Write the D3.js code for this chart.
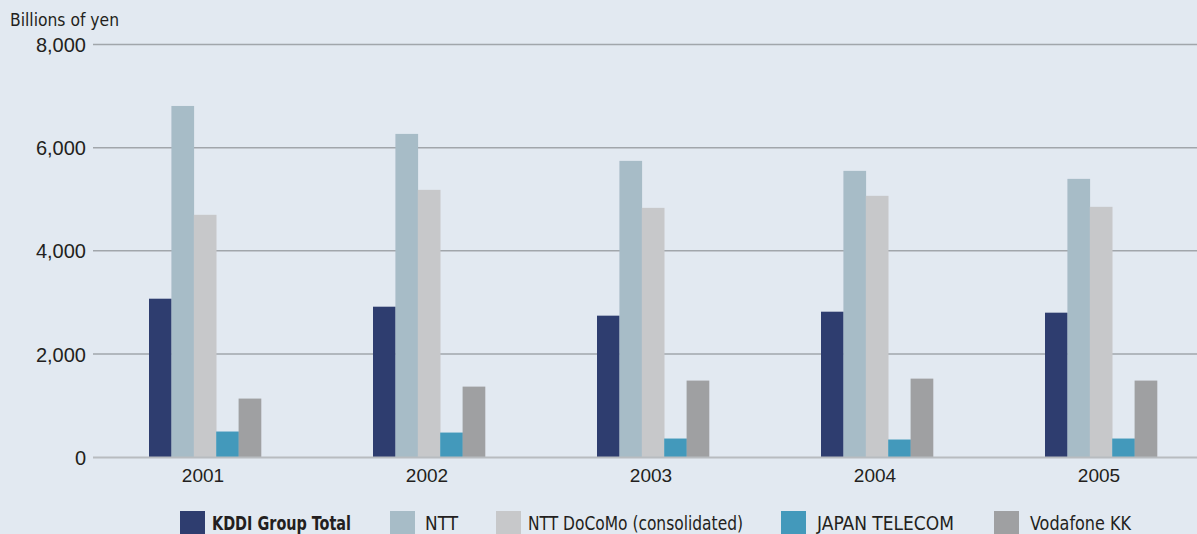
<!DOCTYPE html>
<html>
<head>
<meta charset="utf-8">
<script src="https://cdn.jsdelivr.net/npm/d3@7/dist/d3.min.js"></script>
<style>
  html, body { margin: 0; padding: 0; background: #e2e9f1; }
  svg { display: block; }
</style>
</head>
<body>
<svg id="chart" width="1197" height="534"></svg>
<script>
const years = ["2001", "2002", "2003", "2004", "2005"];
const seriesNames = ["KDDI Group Total", "NTT", "NTT DoCoMo (consolidated)", "JAPAN TELECOM", "Vodafone KK"];
const kddi     = [3070, 2915, 2741, 2818, 2799];
const ntt      = [6808, 6266, 5743, 5549, 5394];
const docomo   = [4697, 5181, 4832, 5065, 4852];
const japanTel = [494, 474, 358, 339, 358];
const vodafone = [1133, 1365, 1482, 1520, 1482];
const yTicks = [0, 2000, 4000, 6000, 8000];
const yUnit = "Billions of yen";

const seriesValues = [kddi, ntt, docomo, japanTel, vodafone];
const colors = ["#2e3d6f", "#a7bcc7", "#c7c8ca", "#4399bb", "#9fa0a2"];

const svg = d3.select("#chart");
const W = 1197, H = 534;
svg.append("rect").attr("width", W).attr("height", H).attr("fill", "#e2e9f1");

const plotLeft = 93, plotRight = 1197;
const y = d3.scaleLinear().domain([0, 8000]).range([457, 44.5]);
const x0 = d3.scaleBand().domain(years).range([93, 1213]).paddingInner(0.5).paddingOuter(0.25);
const x1 = d3.scaleBand().domain(seriesNames).range([0, x0.bandwidth()]).padding(0);

const narrow = "'Liberation Sans Narrow', 'DejaVu Sans Condensed', 'Arial Narrow', sans-serif";
const regular = "'Liberation Sans', Arial, Helvetica, sans-serif";
const textColor = "#231f20";

// gridlines
svg.append("g").selectAll("line")
  .data(yTicks.filter(d => d !== 0))
  .join("line")
  .attr("x1", plotLeft).attr("x2", plotRight)
  .attr("y1", d => y(d)).attr("y2", d => y(d))
  .attr("stroke", "#a1a6ab").attr("stroke-width", 1.5);

// y tick labels
const yAxis = d3.axisLeft(y).tickValues(yTicks).tickSize(0).tickPadding(0)
  .tickFormat(d3.format(","));
const yg = svg.append("g").attr("transform", `translate(86,0)`).call(yAxis);
yg.select(".domain").remove();
yg.selectAll("text")
  .attr("font-family", regular).attr("font-size", 20)
  .attr("fill", textColor).attr("dy", "0.36em");

// unit label
svg.append("text").attr("x", 10).attr("y", 26)
  .attr("font-family", narrow).attr("font-size", 18).attr("fill", textColor)
  .attr("textLength", 109).attr("lengthAdjust", "spacingAndGlyphs")
  .text(yUnit);

// bars
const groups = svg.append("g").selectAll("g")
  .data(years)
  .join("g")
  .attr("transform", d => `translate(${x0(d)},0)`);

groups.selectAll("rect")
  .data((yr, i) => seriesNames.map((s, j) => ({ s, v: seriesValues[j][i], c: colors[j] })))
  .join("rect")
  .attr("x", d => x1(d.s))
  .attr("width", x1.bandwidth() + 0.3)
  .attr("y", d => y(d.v))
  .attr("height", d => y(0) - y(d.v))
  .attr("fill", d => d.c);

// baseline
svg.append("line")
  .attr("x1", plotLeft).attr("x2", plotRight)
  .attr("y1", y(0) + 0.5).attr("y2", y(0) + 0.5)
  .attr("stroke", "#b8bcc0").attr("stroke-width", 2);

// x labels
const xAxis = d3.axisBottom(x0).tickSize(0).tickPadding(0);
const xg = svg.append("g").attr("transform", `translate(-2,${y(0)})`).call(xAxis);
xg.select(".domain").remove();
xg.selectAll("text")
  .attr("font-family", regular).attr("font-size", 19)
  .attr("fill", textColor).attr("y", 25).attr("dy", 0);

// legend
const legendSquares = [180, 390, 496, 781, 994];
const legendTextX = [212, 425, 528, 817, 1030];
const legendTextW = [139, 33, 215, 137, 101];
const lg = svg.append("g");
seriesNames.forEach((s, i) => {
  lg.append("rect")
    .attr("x", legendSquares[i]).attr("y", 511)
    .attr("width", 25).attr("height", 25)
    .attr("fill", colors[i]);
  lg.append("text")
    .attr("x", legendTextX[i]).attr("y", 530)
    .attr("font-family", narrow).attr("font-size", 19)
    .attr("font-weight", i === 0 ? "bold" : "normal")
    .attr("fill", textColor)
    .attr("textLength", legendTextW[i]).attr("lengthAdjust", "spacingAndGlyphs")
    .text(s);
});
</script>
</body>
</html>
